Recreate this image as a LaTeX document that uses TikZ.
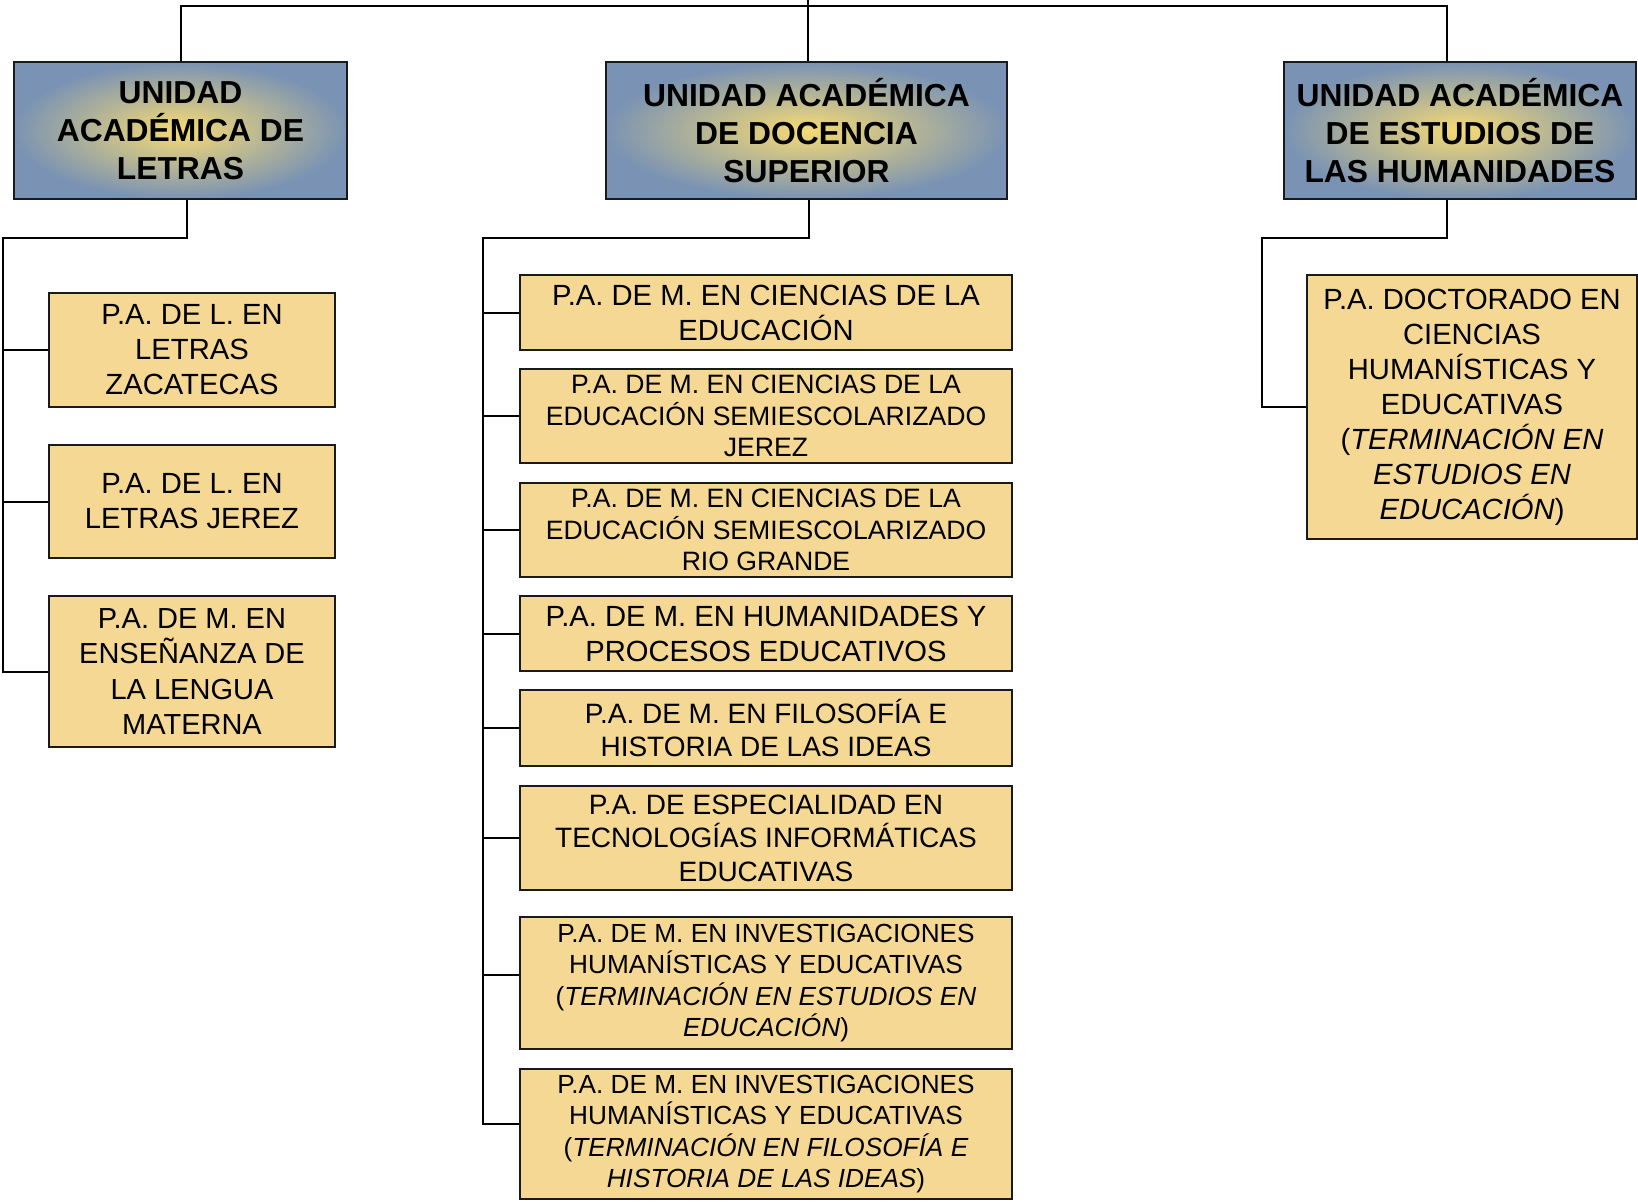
\documentclass[tikz,border=0pt]{standalone}
\usepackage{fontspec}
\setmainfont{Liberation Sans}
\usetikzlibrary{calc}
\definecolor{hblue}{HTML}{7A93B4}
\definecolor{hyel}{HTML}{F6DA74}
\definecolor{bfill}{HTML}{F4D893}
\definecolor{edge}{HTML}{1A1A1A}
\begin{document}
\begin{tikzpicture}[x=0.5pt,y=-0.5pt,
  head/.style={draw=edge, line width=1pt, shade, inner color=hyel, outer color=hblue,
    align=center, inner sep=0pt, font=\fontsize{15.9}{19}\selectfont\bfseries},
  prog/.style={draw=edge, line width=1pt, fill=bfill, align=center, inner sep=0pt},
  fa/.style={font=\fontsize{14.6}{17.5}\selectfont},
  fb/.style={font=\fontsize{13.3}{15.7}\selectfont},
  fc/.style={font=\fontsize{14}{16.3}\selectfont},
  fd/.style={font=\fontsize{13.1}{15.6}\selectfont},
  link/.style={line width=1pt, draw=black}]
\useasboundingbox (0,0) rectangle (1638,1201);

% headers
\node[head, minimum width=166.5pt, minimum height=68.5pt] (h1) at (180.5,130.5)
  {UNIDAD\\ACADÉMICA DE\\LETRAS};
\node[head, minimum width=200.5pt, minimum height=68.5pt] (h2) at (806.5,130.5)
  {UNIDAD ACADÉMICA\\DE DOCENCIA\\SUPERIOR};
\node[head, minimum width=176pt, minimum height=68.5pt] (h3) at (1460,130.5)
  {UNIDAD ACADÉMICA\\DE ESTUDIOS DE\\LAS HUMANIDADES};

% letras column
\node[prog, fa, minimum width=143pt, minimum height=57pt] (l1) at (192,350)
  {P.A. DE L. EN\\LETRAS\\ZACATECAS};
\node[prog, fa, minimum width=143pt, minimum height=56.5pt] (l2) at (192,501.5)
  {P.A. DE L. EN\\LETRAS JEREZ};
\node[prog, fa, minimum width=143pt, minimum height=75.5pt, font=\fontsize{14.5}{17.7}\selectfont] (l3) at (192,671.5)
  {P.A. DE M. EN\\ENSEÑANZA DE\\LA LENGUA\\MATERNA};

% docencia column
\node[prog, fa, minimum width=246pt, minimum height=37.5pt] (m1) at (766,312.5)
  {P.A. DE M. EN CIENCIAS DE LA\\EDUCACIÓN};
\node[prog, fb, minimum width=246pt, minimum height=47pt] (m2) at (766,416)
  {P.A. DE M. EN CIENCIAS DE LA\\EDUCACIÓN SEMIESCOLARIZADO\\JEREZ};
\node[prog, fb, minimum width=246pt, minimum height=47pt] (m3) at (766,530)
  {P.A. DE M. EN CIENCIAS DE LA\\EDUCACIÓN SEMIESCOLARIZADO\\RIO GRANDE};
\node[prog, fa, minimum width=246pt, minimum height=37.5pt] (m4) at (766,633.5)
  {P.A. DE M. EN HUMANIDADES Y\\PROCESOS EDUCATIVOS};
\node[prog, fc, minimum width=246pt, minimum height=38pt] (m5) at (766,728)
  {P.A. DE M. EN FILOSOFÍA E\\HISTORIA DE LAS IDEAS};
\node[prog, fc, minimum width=246pt, minimum height=52pt, font=\fontsize{14}{16.7}\selectfont] (m6) at (766,838)
  {P.A. DE ESPECIALIDAD EN\\TECNOLOGÍAS INFORMÁTICAS\\EDUCATIVAS};
\node[prog, fd, minimum width=246pt, minimum height=66pt] (m7) at (766,983)
  {P.A. DE M. EN INVESTIGACIONES\\HUMANÍSTICAS Y EDUCATIVAS\\(\textit{TERMINACIÓN EN ESTUDIOS EN}\\\textit{EDUCACIÓN})};
\node[prog, fd, minimum width=246pt, minimum height=65pt] (m8) at (766,1134)
  {P.A. DE M. EN INVESTIGACIONES\\HUMANÍSTICAS Y EDUCATIVAS\\(\textit{TERMINACIÓN EN FILOSOFÍA E}\\\textit{HISTORIA DE LAS IDEAS})};

% humanidades column
\node[prog, fa, minimum width=165pt, minimum height=132pt] (r1) at (1472,407)
  {P.A. DOCTORADO EN\\CIENCIAS\\HUMANÍSTICAS Y\\EDUCATIVAS\\(\textit{TERMINACIÓN EN}\\\textit{ESTUDIOS EN}\\\textit{EDUCACIÓN})};

% top connectors
\coordinate (top) at (808,0);
\coordinate (tl) at (808,6);
\draw[link] (top) -- ([xshift=0.75pt]h2.north);
\draw[link] (h1.north) |- (tl) -| ([xshift=-6.75pt]h3.north);

% letras connectors
\coordinate (b1) at (3,238);
\draw[link] ([xshift=3.25pt]h1.south) |- (b1) |- (l3.west);
\draw[link] (b1) |- (l1.west);
\draw[link] (b1) |- (l2.west);

% docencia connectors
\coordinate (b2) at (483,238);
\draw[link] ([xshift=1.25pt]h2.south) |- (b2) |- ([yshift=5pt]m8.west);
\foreach \n in {m1,m2,m3,m4,m5,m6} {\draw[link] (b2) |- (\n.west);}
\draw[link] (b2) |- ([yshift=4pt]m7.west);

% humanidades connectors
\coordinate (b3) at (1262,238);
\draw[link] ([xshift=-6.75pt]h3.south) |- (b3) |- (r1.west);
\end{tikzpicture}
\end{document}
